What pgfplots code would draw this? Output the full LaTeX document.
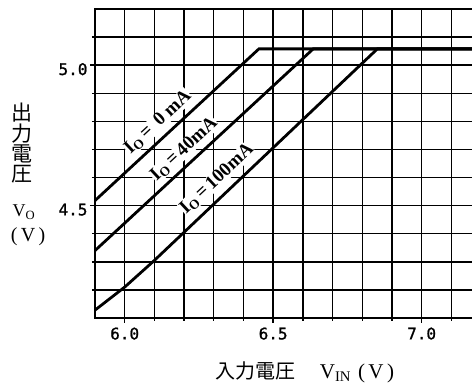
\documentclass[border=0pt]{standalone}
\usepackage{fontspec}
\setmainfont{Liberation Serif}
\newfontfamily\cjk{Noto Sans CJK JP}
\newfontfamily\tickfont[FakeBold=1.2]{DejaVu Sans Mono}
\usepackage{pgfplots}
\pgfplotsset{compat=1.18}
\begin{document}
\begin{tikzpicture}
\begin{axis}[
  name=ax, at={(0,0)}, anchor=south west,
  scale only axis, width=386pt, height=309pt,
  xmin=5.9, xmax=7.2, ymin=4.1, ymax=5.2,
  xtick={6.0,6.5,7.0}, xticklabels={6.0,6.5,7.0},
  ytick={4.5,5.0}, yticklabels={4.5,5.0},
  minor xtick={6.1,6.2,6.3,6.4,6.6,6.7,6.8,6.9,7.1},
  minor ytick={4.2,4.3,4.4,4.6,4.7,4.8,4.9,5.1},
  grid=both,
  major grid style={black, line width=1.4pt},
  minor grid style={black, line width=1.4pt},
  axis line style={black, line width=1.8pt},
  tick style={black, line width=1.4pt},
  major tick length=5pt, minor tick length=3pt,
  tick align=outside, xtick pos=bottom, ytick pos=left,
  xticklabel style={font=\tickfont\fontsize{16}{16}\selectfont, yshift=-1pt},
  yticklabel style={font=\tickfont\fontsize{16}{16}\selectfont, yshift=-4pt, xshift=1pt},
]
\addplot[black, line width=2.8pt, line join=miter] coordinates {(5.9,4.518) (6.452,5.058) (7.25,5.058)};
\addplot[black, line width=2.8pt, line join=miter] coordinates {(5.9,4.340) (6.635,5.058) (7.25,5.058)};
\addplot[black, line width=2.8pt, line join=miter] coordinates {(5.9,4.128) (6.0,4.21) (6.1,4.305) (6.851,5.058) (7.25,5.058)};
\node[rotate=43, fill=white, inner sep=0.5pt, font=\bfseries\fontsize{19}{19}\selectfont] at (axis cs:6.112,4.797) {I\textsubscript{O}\,=\, 0 mA};
\node[rotate=43, fill=white, inner sep=0.5pt, font=\bfseries\fontsize{19}{19}\selectfont] at (axis cs:6.200,4.701) {I\textsubscript{O}\,=\,40mA};
\node[rotate=43, fill=white, inner sep=0.5pt, font=\bfseries\fontsize{19}{19}\selectfont] at (axis cs:6.311,4.595) {I\textsubscript{O}\,=\,100mA};
\end{axis}
\node[font=\cjk\fontsize{21}{20.3}\selectfont, align=center, inner sep=0pt] at ([shift={(-73pt,174.5pt)}]ax.south west) {出\\力\\電\\圧};
\node[font=\fontsize{18}{18}\selectfont, inner sep=0pt] at ([shift={(-71pt,106pt)}]ax.south west) {V\textsubscript{O}};
\node[font=\fontsize{20}{20}\selectfont, inner sep=0pt] at ([shift={(-67pt,81pt)}]ax.south west) {(\,V\,)};
\node[font=\fontsize{21}{21}\selectfont, inner sep=0pt] at ([shift={(210pt,-54pt)}]ax.south west) {{\cjk\fontsize{20}{20}\selectfont 入力電圧}\hspace{24pt}V\textsubscript{IN}\hspace{7pt}(\,V\,)};
\pgfresetboundingbox
\path[use as bounding box] (ax.south west) ++(-95pt,-67pt) rectangle ++(472pt,385pt);
\end{tikzpicture}
\end{document}
